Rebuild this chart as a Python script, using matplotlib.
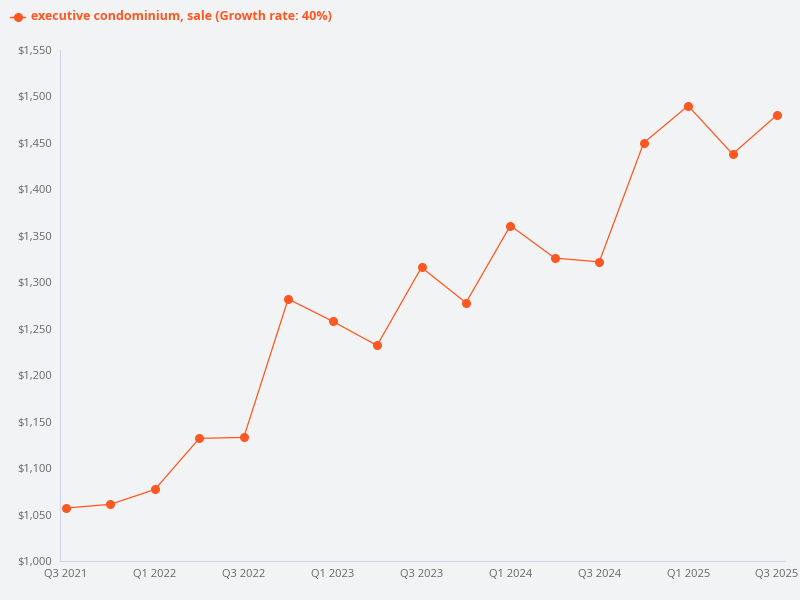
import matplotlib
matplotlib.use("Agg")
import matplotlib.pyplot as plt
from matplotlib.ticker import FuncFormatter
from matplotlib.lines import Line2D

quarters = ["Q3 2021","Q4 2021","Q1 2022","Q2 2022","Q3 2022","Q4 2022","Q1 2023","Q2 2023",
            "Q3 2023","Q4 2023","Q1 2024","Q2 2024","Q3 2024","Q4 2024","Q1 2025","Q2 2025","Q3 2025"]
values = [1057,1061,1077,1132,1133,1282,1258,1232,1316,1278,1361,1326,1322,1450,1490,1438,1480]

plt.rcParams['font.family'] = ['Open Sans', 'DejaVu Sans']
bg = "#f2f3f5"
color = "#ff5722"
fig = plt.figure(figsize=(8, 6), dpi=100, facecolor=bg)
ax = fig.add_axes([60/800, 1-561/600, 725/800, 511/600], facecolor=bg)
x = list(range(len(values)))
ax.plot(x, values, color=color, lw=0.9, marker='o', ms=5.5)
ax.set_xlim(-0.135, len(values)-1+0.18)
ax.set_ylim(1000, 1550)
ax.set_yticks(range(1000, 1551, 50))
ax.yaxis.set_major_formatter(FuncFormatter(lambda v, p: f"${v:,.0f}"))
ax.set_xticks(x[::2])
ax.set_xticklabels(quarters[::2])
for s in ["top", "right"]:
    ax.spines[s].set_visible(False)
for s in ["left", "bottom"]:
    ax.spines[s].set_color("#ccd6eb")
ax.tick_params(colors="#666666", labelsize=8, length=0, pad=6)
yl = 1 - 17/600
fig.add_artist(Line2D([10/800, 25/800], [yl, yl], color=color, lw=1, transform=fig.transFigure))
fig.add_artist(Line2D([17.5/800], [yl], color=color, marker='o', ms=5.5, transform=fig.transFigure))
fig.text(31/800, yl, "executive condominium, sale (Growth rate: 40%)", color=color,
         fontsize=9, fontweight="bold", va="center")
fig.savefig("out.png", facecolor=bg)
